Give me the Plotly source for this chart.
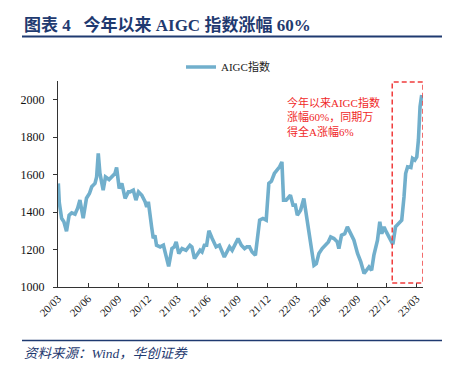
import plotly.graph_objects as go

# ---- data ----
dates = [
    "2020-03-02", "2020-03-05", "2020-03-12", "2020-03-19", "2020-03-27", "2020-04-04", "2020-04-12",
    "2020-04-22", "2020-04-30", "2020-05-07", "2020-05-17", "2020-05-27", "2020-06-05", "2020-06-12",
    "2020-06-22", "2020-06-27", "2020-07-02", "2020-07-07", "2020-07-17", "2020-07-24", "2020-08-04",
    "2020-08-12", "2020-08-22", "2020-08-27", "2020-09-04", "2020-09-12", "2020-09-22", "2020-10-02",
    "2020-10-07", "2020-10-17", "2020-10-25", "2020-11-02", "2020-11-12", "2020-11-22", "2020-11-27",
    "2020-12-02", "2020-12-07", "2020-12-12", "2020-12-17", "2020-12-22", "2020-12-27", "2021-01-07",
    "2021-01-17", "2021-01-24", "2021-02-02", "2021-02-12", "2021-02-19", "2021-02-25", "2021-03-05",
    "2021-03-15", "2021-03-27", "2021-04-08", "2021-04-14", "2021-04-22", "2021-05-02", "2021-05-09",
    "2021-05-15", "2021-05-22", "2021-05-29", "2021-06-05", "2021-06-15", "2021-06-27", "2021-07-07",
    "2021-07-22", "2021-08-07", "2021-08-15", "2021-09-02", "2021-09-12", "2021-09-22", "2021-09-29",
    "2021-10-07", "2021-10-15", "2021-10-25", "2021-11-02", "2021-11-07", "2021-11-17", "2021-11-27",
    "2021-12-05", "2021-12-13", "2021-12-22", "2022-01-02", "2022-01-07", "2022-01-14", "2022-01-19",
    "2022-01-27", "2022-02-09", "2022-02-17", "2022-02-24", "2022-03-02", "2022-03-12", "2022-03-22",
    "2022-04-02", "2022-04-12", "2022-04-22", "2022-04-29", "2022-05-07", "2022-05-17", "2022-05-25",
    "2022-06-05", "2022-06-12", "2022-06-22", "2022-07-02", "2022-07-07", "2022-07-15", "2022-07-25",
    "2022-08-02", "2022-08-09", "2022-08-17", "2022-08-22", "2022-09-02", "2022-09-12", "2022-09-22",
    "2022-09-29", "2022-10-07", "2022-10-15", "2022-10-22", "2022-11-02", "2022-11-09", "2022-11-15",
    "2022-11-22", "2022-11-29", "2022-12-07", "2022-12-15", "2022-12-19", "2022-12-27", "2023-01-07",
    "2023-01-15", "2023-01-22", "2023-01-27", "2023-02-02", "2023-02-12", "2023-02-17", "2023-02-24",
    "2023-03-02", "2023-03-07", "2023-03-12", "2023-03-17",
]
aigc_index = [
    1553, 1450, 1367, 1348, 1298, 1383, 1396,
    1389, 1421, 1464, 1367, 1474, 1499, 1535,
    1553, 1588, 1713, 1608, 1517, 1588, 1574,
    1588, 1606, 1638, 1526, 1553, 1473, 1508,
    1508, 1517, 1464, 1508, 1490, 1455, 1428,
    1455, 1366, 1321, 1260, 1276, 1223, 1214,
    1223, 1179, 1110, 1205, 1214, 1241, 1179,
    1205, 1196, 1223, 1214, 1152, 1175, 1196,
    1187, 1223, 1223, 1300, 1259, 1214, 1223,
    1160, 1214, 1196, 1259, 1223, 1205, 1214,
    1214, 1187, 1170, 1294, 1357, 1366, 1357,
    1553, 1565, 1606, 1630, 1642, 1668, 1464,
    1464, 1490, 1437, 1437, 1383, 1410, 1473,
    1339, 1214, 1116, 1125, 1179, 1205, 1223,
    1241, 1267, 1259, 1241, 1205, 1276, 1285,
    1321, 1294, 1259, 1250, 1179, 1134, 1072,
    1089, 1107, 1089, 1170, 1250, 1348, 1285,
    1321, 1294, 1267, 1232, 1228, 1321, 1339,
    1357, 1481, 1606, 1642, 1638, 1687, 1678,
    1695, 1785, 1963, 2025,
]
tick_dates = ["2020-03-01", "2020-06-01", "2020-09-01", "2020-12-01", "2021-03-01", "2021-06-01",
              "2021-09-01", "2021-12-01", "2022-03-01", "2022-06-01", "2022-09-01", "2022-12-01",
              "2023-03-01"]
tick_labels = ["20/03", "20/06", "20/09", "20/12", "21/03", "21/06", "21/09", "21/12",
               "22/03", "22/06", "22/09", "22/12", "23/03"]
series_name = "AIGC指数"
title_text = "图表 4 &nbsp; 今年以来 AIGC 指数涨幅 60%"
note_text = "今年以来AIGC指数<br>涨幅60%，同期万<br>得全A涨幅6%"
source_text = "资料来源：Wind，华创证券"
box_x = ["2022-12-17", "2023-03-21"]
box_y = [1022, 2095]

SERIF = "Liberation Serif, Noto Sans CJK SC"
NAVY = "#1f3a70"

# page offset of the figure (body margin) is 8px; plot area in page px: 58..423 x 81..286.7
OFF = 8
PL, PR, PT, PB = 58 - OFF, 423 - OFF, 81 - OFF, 286.7 - OFF
PW, PH = PR - PL, PB - PT


def px(xp):
    return (xp - OFF - PL) / PW


def py(yp):
    return (PB - (yp - OFF)) / PH


fig = go.Figure()
fig.add_trace(go.Scatter(
    x=dates, y=aigc_index, mode="lines", name=series_name,
    line=dict(color="#71afcc", width=3.6, shape="linear"),
))

fig.add_shape(type="rect", xref="x", yref="y",
              x0=box_x[0], x1=box_x[1], y0=box_y[0], y1=box_y[1],
              line=dict(color="#f03c3c", width=1.5, dash="5px,3px"))

fig.add_annotation(text=note_text, xref="paper", yref="paper",
                   x=px(285), y=py(94),
                   xanchor="left", yanchor="top", align="left", showarrow=False,
                   font=dict(family=SERIF, size=11, color="#f02828"))

# title
fig.add_annotation(text="<b>" + title_text + "</b>", xref="paper", yref="paper",
                   x=px(22), y=py(25),
                   xanchor="left", yanchor="middle", showarrow=False,
                   font=dict(family=SERIF, size=17, color=NAVY))
fig.add_shape(type="line", xref="paper", yref="paper",
              x0=px(22), x1=px(442), y0=py(36.5), y1=py(36.5),
              line=dict(color=NAVY, width=2))
# footer
fig.add_shape(type="line", xref="paper", yref="paper",
              x0=px(22), x1=px(442), y0=py(340), y1=py(340),
              line=dict(color=NAVY, width=1.5))
fig.add_annotation(text="<i>" + source_text + "</i>", xref="paper", yref="paper",
                   x=px(22), y=py(353),
                   xanchor="left", yanchor="middle", showarrow=False,
                   font=dict(family=SERIF, size=13.5, color=NAVY))

fig.update_layout(
    width=452, height=367,
    margin=dict(l=PL, r=452 - PR, t=PT, b=367 - PB, pad=0),
    paper_bgcolor="white", plot_bgcolor="white",
    showlegend=True,
    legend=dict(orientation="h", x=px(228), xanchor="center", y=py(67),
                yanchor="middle", font=dict(family=SERIF, size=11, color="#222"),
                itemwidth=30, bgcolor="rgba(0,0,0,0)"),
    font=dict(family=SERIF, size=11, color="#111"),
)
fig.update_xaxes(
    type="date", range=["2020-03-01", "2023-03-21"],
    tickmode="array", tickvals=tick_dates, ticktext=tick_labels, tickangle=-45,
    showline=True, linecolor="#333", linewidth=1, ticks="inside", ticklen=4, tickcolor="#333",
    showgrid=False, zeroline=False, tickfont=dict(family=SERIF, size=11, color="#111"),
)
fig.update_yaxes(
    range=[1000, 2100], tickvals=[1000, 1200, 1400, 1600, 1800, 2000],
    showline=True, linecolor="#333", linewidth=1, ticks="outside", ticklen=4, tickcolor="#333",
    showgrid=False, zeroline=False, tickfont=dict(family=SERIF, size=12, color="#111"),
    ticklabelstandoff=6,
)

fig.write_html("out.html")
